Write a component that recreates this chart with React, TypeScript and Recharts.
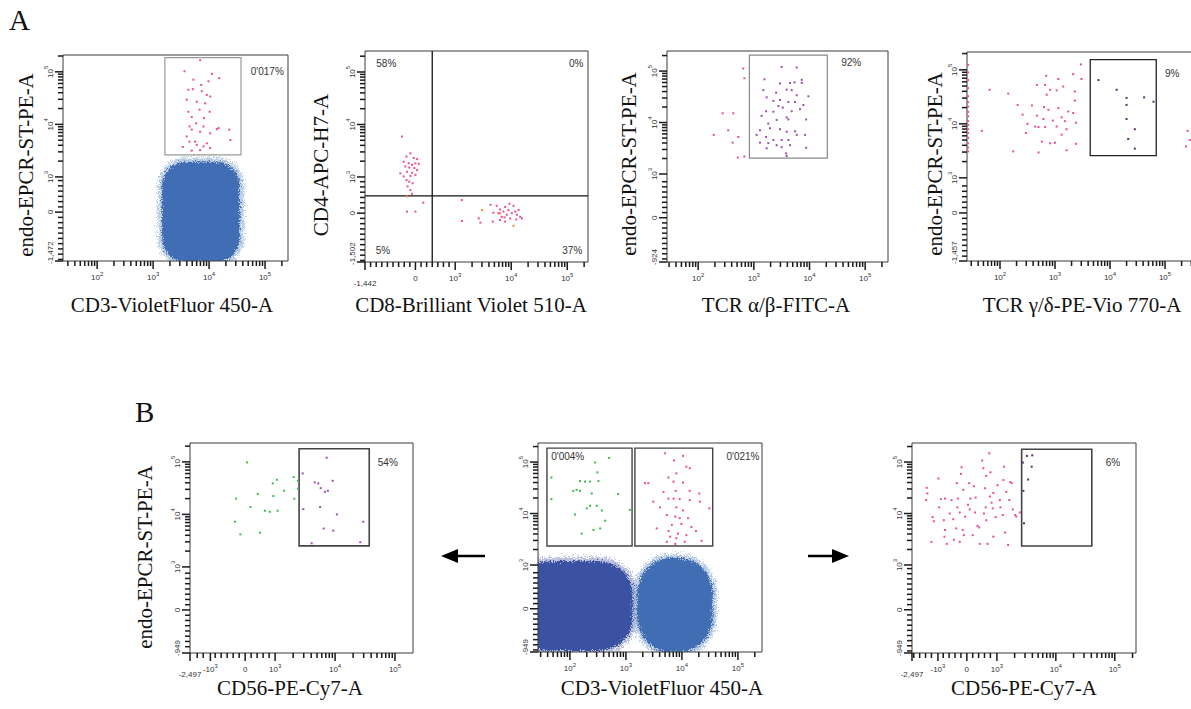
import React from 'react';
import { ScatterChart, Scatter, XAxis, YAxis, ReferenceArea, ReferenceLine, ReferenceDot } from 'recharts';

type Pair = [number, number];
type Maj = { v: number; l: string; low?: boolean };
type Rect4 = [number, number, number, number];

// ---------------- data (display units: one unit per decade of the biexponential axis) ----------------
const P1_GATED: Pair[] = [
  [3.84, 5.22], [3.56, 5.01], [4.05, 4.96], [3.72, 4.85], [3.99, 4.82], [4.18, 4.88], [3.86, 4.75], [3.63, 4.66],
  [3.71, 4.67], [3.87, 4.63], [3.96, 4.56], [4.02, 4.53], [3.6, 4.47], [3.78, 4.43], [3.93, 4.4], [3.83, 4.28],
  [4.01, 4.24], [3.63, 4.24], [3.69, 4.14], [3.91, 4.12], [3.77, 4.02], [3.65, 3.96], [3.9, 3.96], [3.69, 3.9],
  [3.84, 3.86], [4.14, 3.91], [4.17, 3.93], [4.02, 3.83], [4.36, 3.9], [3.6, 3.77], [3.75, 3.67], [3.96, 3.64],
  [3.65, 3.67], [3.78, 3.61], [3.9, 3.58], [3.53, 3.57], [4.02, 3.55], [4.38, 3.7], [3.84, 3.51], [3.69, 3.5],
];
const P1_BLOBS: Rect4[] = [[3.16, 4.55, 1.38, 3.29]];
const P1_GATES: Rect4[] = [[3.21, 4.57, 3.42, 5.27]];

const P2_CD4: Pair[] = [
  [2.05, 3.77], [2.2, 3.45], [2.13, 3.39], [2.26, 3.36], [2.32, 3.34], [2.08, 3.29], [2.17, 3.26], [2.29, 3.26],
  [2.23, 3.23], [2.35, 3.25], [2.11, 3.2], [2.18, 3.18], [2.27, 3.17], [2.02, 3.07], [2.14, 3.1], [2.23, 3.08],
  [2.32, 3.13], [2.08, 3.01], [2.2, 3.02], [2.29, 3.04], [2.13, 2.94], [2.18, 2.91], [2.24, 2.88], [2.15, 2.82],
  [2.2, 2.75], [2.23, 2.68], [2.29, 2.34], [2.14, 2.34], [2.43, 2.51],
];
const P2_CD8: Pair[] = [
  [3.12, 2.56], [3.12, 2.16], [3.42, 2.21], [3.45, 2.13], [3.63, 2.47], [3.68, 2.32], [3.67, 2.15], [3.77, 2.31],
  [3.8, 2.38], [3.83, 2.24], [3.86, 2.34], [3.89, 2.43], [3.92, 2.28], [3.95, 2.37], [3.98, 2.21], [4.01, 2.31],
  [4.04, 2.45], [4.07, 2.34], [4.1, 2.28], [4.13, 2.37], [4.16, 2.24], [4.19, 2.21], [3.8, 2.18], [3.89, 2.15],
  [3.74, 2.45], [3.97, 2.49], [4.09, 2.19], [3.88, 2.23],
];
const P2_ORANGE: Pair[] = [[2.14, 2.63], [3.48, 2.37], [3.8, 2.31], [4.04, 2.07]];
const P2_QUAD: Pair = [2.59, 2.64];

const P3_GATED: Pair[] = [
  [3.5, 5.08], [3.77, 5.07], [3.19, 4.84], [3.65, 4.77], [3.73, 4.78], [3.86, 4.83], [3.86, 4.77], [3.47, 4.76],
  [3.59, 4.64], [3.68, 4.63], [3.17, 4.63], [3.4, 4.58], [3.77, 4.53], [3.98, 4.51], [3.35, 4.42], [3.47, 4.44],
  [3.62, 4.4], [3.74, 4.4], [3.89, 4.34], [3.83, 4.26], [3.52, 4.29], [3.22, 4.22], [3.68, 4.22], [3.14, 4.13],
  [3.59, 4.1], [3.62, 4.06], [3.94, 4.06], [3.41, 4.05], [3.26, 3.98], [3.47, 3.87], [3.74, 3.83], [3.11, 3.85],
  [3.29, 3.89], [3.59, 3.82], [3.22, 3.72], [3.05, 3.76], [3.35, 3.66], [3.5, 3.66], [3.62, 3.66], [3.11, 3.61],
  [3.23, 3.5], [3.5, 3.52], [3.26, 3.6], [3.41, 3.56], [3.65, 3.56], [3.58, 3.4], [3.59, 3.35], [3.94, 3.51],
  [3.92, 3.76], [3.77, 3.76], [3.44, 4.32], [3.23, 4.49], [3.35, 4.21],
];
const P3_OUT: Pair[] = [
  [2.81, 5.05], [2.83, 4.86], [2.44, 4.18], [2.63, 4.18], [2.54, 3.85], [2.28, 3.76], [2.72, 3.72], [2.62, 3.61],
  [2.71, 3.32], [2.83, 3.34],
];
const P3_GATES: Rect4[] = [[2.92, 4.32, 3.31, 5.31]];

const P4_OUT: Pair[] = [
  [1.81, 4.63], [2.15, 4.56], [2.67, 4.72], [2.82, 4.72], [3.06, 4.83], [2.84, 4.89], [3.33, 4.92], [3.48, 4.83],
  [3.47, 5.1], [2.85, 4.54], [2.91, 4.63], [3.03, 4.62], [3.15, 4.69], [3.36, 4.6], [2.32, 4.35], [2.58, 4.34],
  [2.8, 4.31], [2.88, 4.26], [3.06, 4.29], [3.24, 4.23], [3.36, 4.43], [2.41, 4.17], [2.67, 4.15], [2.79, 4.09],
  [2.96, 4.06], [3.12, 4.12], [3.18, 4.05], [3.33, 4.2], [2.5, 4.0], [2.64, 3.95], [2.7, 3.94], [2.82, 3.94],
  [3.03, 3.95], [3.21, 3.9], [3.38, 4.02], [1.67, 3.87], [2.47, 3.83], [2.76, 3.67], [2.91, 3.64], [3.0, 3.65],
  [3.12, 3.8], [2.7, 3.47], [3.21, 3.51], [3.38, 3.63], [2.24, 3.49], [5.41, 3.87], [5.45, 3.7], [5.38, 3.58],
];
const P4_EDGE_Y: number[] = [5.09, 4.95, 4.81, 4.66, 4.51, 4.4, 4.32, 4.22, 4.14, 4.05, 3.98, 3.9, 3.83, 3.74, 3.64, 3.56, 3.49];
const P4_EDGE_X = 1.42;
const P4_GATED: Pair[] = [
  [3.79, 4.81], [4.12, 4.63], [4.3, 4.48], [4.3, 4.35], [4.3, 4.09], [4.45, 3.9], [4.33, 3.72], [4.45, 3.54],
  [4.62, 4.49], [4.79, 4.41],
];
const P4_GATES: Rect4[] = [[3.64, 4.84, 3.41, 5.19]];

const P5_GREEN: Pair[] = [
  [2.35, 4.3], [2.33, 3.86], [2.42, 3.62], [2.59, 4.14], [2.71, 4.39], [2.75, 3.65], [2.83, 4.07], [2.91, 4.05],
  [2.96, 4.59], [2.97, 4.35], [3.03, 4.66], [3.04, 4.07], [3.15, 4.45], [3.31, 4.71], [3.32, 4.3], [3.38, 4.64],
  [3.38, 4.49], [2.53, 4.99],
];
const P5_GATED: Pair[] = [
  [3.46, 4.78], [3.47, 4.1], [3.66, 4.61], [3.72, 4.59], [3.76, 4.5], [3.83, 4.43], [3.88, 4.45], [3.96, 4.64],
  [3.86, 5.08], [3.75, 4.14], [4.03, 4.0], [3.81, 3.73], [3.97, 3.69], [4.47, 3.86], [3.61, 3.45], [4.42, 3.47],
];
const P5_GATES: Rect4[] = [[3.4, 4.57, 3.4, 5.25]];

const P6_GREEN: Pair[] = [
  [1.67, 4.7], [1.67, 4.28], [2.45, 4.99], [2.7, 5.08], [2.49, 4.8], [2.18, 4.63], [2.27, 4.62], [2.36, 4.62],
  [2.51, 4.63], [2.06, 4.44], [2.12, 4.46], [2.18, 4.44], [2.39, 4.39], [2.86, 4.38], [2.3, 4.1], [2.36, 4.15],
  [2.48, 4.15], [2.57, 4.06], [3.07, 4.07], [2.09, 3.98], [2.63, 3.86], [2.54, 3.71], [2.42, 3.68], [2.21, 3.61],
];
const P6_PINK: Pair[] = [
  [3.7, 5.17], [3.86, 5.03], [4.02, 5.12], [4.08, 4.91], [4.14, 4.88], [3.9, 4.78], [3.76, 4.7], [3.34, 4.59],
  [3.4, 4.59], [3.85, 4.62], [4.02, 4.6], [3.67, 4.42], [3.89, 4.44], [4.14, 4.44], [4.31, 4.39], [3.49, 4.23],
  [3.76, 4.29], [3.85, 4.29], [3.96, 4.28], [4.14, 4.26], [3.61, 4.12], [3.9, 4.12], [4.02, 4.06], [3.73, 3.97],
  [3.88, 3.94], [3.96, 3.91], [4.11, 3.91], [3.82, 3.78], [3.99, 3.8], [4.17, 3.74], [3.55, 3.71], [3.76, 3.66],
  [3.93, 3.61], [4.08, 3.58], [4.25, 3.66], [3.79, 3.55], [3.9, 3.52], [4.35, 3.47], [3.73, 3.45], [4.05, 3.45],
  [3.88, 3.41], [4.49, 4.1], [4.32, 4.23],
];
const P6_BLOBS_DARK: Rect4[] = [[1.0, 3.12, 1.33, 3.08]];
const P6_BLOBS_LIGHT: Rect4[] = [[3.2, 4.55, 1.3, 3.14]];
const P6_GATES: Rect4[] = [[1.59, 3.11, 3.37, 5.27], [3.16, 4.55, 3.37, 5.27]];

const P7_PINK: Pair[] = [
  [1.81, 4.5], [1.82, 4.39], [1.8, 4.26], [2.01, 4.68], [2.05, 4.28], [1.91, 3.93], [1.93, 3.85], [1.89, 3.45],
  [2.12, 4.29], [2.1, 3.87], [2.12, 3.68], [2.11, 3.55], [2.15, 3.41], [2.02, 4.12], [2.2, 4.0], [2.23, 4.26],
  [2.26, 3.89], [2.32, 4.59], [2.34, 4.29], [2.33, 4.12], [2.37, 4.02], [2.31, 3.71], [2.27, 3.49], [2.37, 3.45],
  [2.4, 4.9], [2.39, 4.77], [2.43, 4.46], [2.46, 3.94], [2.42, 3.68], [2.44, 3.58], [2.51, 4.17], [2.53, 4.59],
  [2.54, 4.08], [2.55, 4.29], [2.59, 3.58], [2.61, 4.53], [2.63, 4.02], [2.64, 4.31], [2.67, 3.76], [2.7, 3.73],
  [2.71, 3.41], [2.75, 5.03], [2.77, 4.88], [2.78, 4.0], [2.8, 4.49], [2.82, 4.73], [2.81, 4.12], [2.82, 3.87],
  [2.84, 3.41], [2.87, 5.17], [2.88, 4.33], [2.89, 4.8], [2.91, 4.21], [2.93, 4.1], [2.94, 3.55], [2.94, 4.4],
  [2.98, 3.93], [3.01, 4.55], [3.05, 4.26], [3.06, 4.12], [3.1, 3.97], [3.11, 4.65], [3.12, 4.91], [3.14, 3.63],
  [3.16, 4.42], [3.19, 3.39], [3.21, 4.26], [3.23, 4.61], [3.25, 4.59], [3.27, 4.08], [3.31, 3.97], [3.33, 3.94],
  [3.39, 4.02],
];
const P7_GATED: Pair[] = [[3.44, 4.99], [3.51, 5.12], [3.6, 5.13], [3.59, 4.91], [3.53, 4.66], [3.45, 4.44], [3.46, 3.81]];
const P7_GATES: Rect4[] = [[3.42, 4.61, 3.37, 5.25]];

// tick labels
const X_LOG: Maj[] = [{ v: 2, l: '10^2' }, { v: 3, l: '10^3' }, { v: 4, l: '10^4' }, { v: 5, l: '10^5' }];
const P2_X: Maj[] = [{ v: 1.39, l: '-1,442', low: true }, { v: 2.29, l: '0' }, { v: 3, l: '10^3' }, { v: 4, l: '10^4' }, { v: 5, l: '10^5' }];
const P5_X: Maj[] = [{ v: 1.58, l: '-2,497', low: true }, { v: 1.92, l: '-10^3' }, { v: 2.5, l: '0' }, { v: 3, l: '10^3' }, { v: 4, l: '10^4' }, { v: 5, l: '10^5' }];
const P7_X: Maj[] = [{ v: 1.56, l: '-2,497', low: true }, { v: 2.0, l: '-10^3' }, { v: 2.49, l: '0' }, { v: 3, l: '10^3' }, { v: 4, l: '10^4' }, { v: 5, l: '10^5' }];
const yMaj = (zero: number, bottom: number, bl: string): Maj[] => [
  { v: 5, l: '10^5' }, { v: 4, l: '10^4' }, { v: 3, l: '10^3' }, { v: zero, l: '0' }, { v: bottom, l: bl, low: true },
];
const P1_Y = yMaj(2.33, 1.4, '-1,472');
const P2_Y = yMaj(2.31, 1.38, '-1,502');
const P3_Y = yMaj(2.15, 1.29, '-924');
const P4_Y = yMaj(2.35, 1.46, '-1,457');
const P5_Y = yMaj(2.18, 1.36, '-949');
const P6_Y = yMaj(2.15, 1.31, '-949');
const P7_Y = yMaj(2.13, 1.29, '-949');

const X_TITLES = ['CD3-VioletFluor 450-A', 'CD8-Brilliant Violet 510-A', 'TCR α/β-FITC-A', 'TCR γ/δ-PE-Vio 770-A', 'CD56-PE-Cy7-A', 'CD3-VioletFluor 450-A', 'CD56-PE-Cy7-A'];
const Y_TITLES = ['endo-EPCR-ST-PE-A', 'CD4-APC-H7-A', 'endo-EPCR-ST-PE-A', 'endo-EPCR-ST-PE-A', 'endo-EPCR-ST-PE-A', '', ''];
const PCT_LABELS: { p: number; x: number; y: number; t: string }[] = [
  { p: 0, x: 5.04, y: 5.0, t: "0'017%" },
  { p: 1, x: 1.77, y: 5.17, t: '58%' }, { p: 1, x: 5.16, y: 5.17, t: '0%' },
  { p: 1, x: 1.71, y: 1.59, t: '5%' }, { p: 1, x: 5.09, y: 1.59, t: '37%' },
  { p: 2, x: 4.75, y: 5.16, t: '92%' },
  { p: 3, x: 5.13, y: 4.94, t: '9%' },
  { p: 4, x: 4.88, y: 4.98, t: '54%' },
  { p: 5, x: 1.96, y: 5.1, t: "0'004%" }, { p: 5, x: 5.09, y: 5.1, t: "0'021%" },
  { p: 6, x: 4.97, y: 5.0, t: '6%' },
];

// ---------------- styling ----------------
const PINK = '#ea4f9b';
const PURPLE = '#9c52ad';
const DARK_PURPLE = '#5e2a70';
const GREEN = '#3dbb4e';
const ORANGE = '#f0843a';
const BLUE = '#3f6db3';
const NAVY = '#3a51a1';
const TICK = '#1a1a1a';
const SERIF = "'Liberation Serif', 'Times New Roman', serif";
const SANS = "'Liberation Sans', Arial, sans-serif";

const YW = 40, XH = 40, MT = 10, MR = 10;
const MAJ_LEN = 8, MIN_LEN = 5, TW = 1.5;

const toPts = (a: Pair[]) => a.map(([x, y]) => ({ x, y }));

function buildTicks(dom: [number, number], majors: Maj[], zero: number | null): number[] {
  const [lo, hi] = dom;
  const out: number[] = majors.map((m) => m.v);
  const add = (v: number) => {
    if (v <= lo || v >= hi) return;
    if (out.some((o) => Math.abs(o - v) < 0.03)) return;
    out.push(v);
  };
  const logStart = zero === null ? lo : 3;
  for (let d = Math.floor(logStart); d <= Math.ceil(hi); d++) {
    for (let k = 2; k <= 9; k++) {
      const v = d + Math.log10(k);
      if (v > logStart) add(v);
    }
  }
  if (zero !== null) {
    for (let i = -30; i <= 30; i++) {
      const v = zero + i * 0.1;
      if (v < 2.95) add(v);
    }
  }
  return out.sort((a, b) => a - b);
}

function parts(l: string): [string, string] {
  const i = l.indexOf('^');
  return i < 0 ? [l, ''] : [l.slice(0, i), l.slice(i + 1)];
}

// axis tick: mark plus a label for the decades
const makeXTick = (majors: Maj[]) => (p: any) => {
  const x = Number(p.x);
  const ay = Number(p.y);
  const m = majors.find((t) => Math.abs(t.v - p.payload.value) < 1e-6);
  const len = m ? MAJ_LEN : MIN_LEN;
  const [base, sup] = m ? parts(m.l) : ['', ''];
  return (
    <g>
      <rect x={x - TW / 2} y={ay} width={TW} height={len} fill={TICK} />
      {m && (
        <text x={x} y={ay + (m.low ? 24 : 19)} textAnchor="middle" fontSize={8} fontFamily={SANS} fill="#333">
          {base}
          {sup && <tspan dy={-4} fontSize={6}>{sup}</tspan>}
        </text>
      )}
    </g>
  );
};

const makeYTick = (majors: Maj[]) => (p: any) => {
  const ax = Number(p.x);
  const y = Number(p.y);
  const m = majors.find((t) => Math.abs(t.v - p.payload.value) < 1e-6);
  const len = m ? MAJ_LEN : MIN_LEN;
  const [base, sup] = m ? parts(m.l) : ['', ''];
  return (
    <g>
      <rect x={ax - len} y={y - TW / 2} width={len} height={TW} fill={TICK} />
      {m && (
        <text
          transform={`translate(${ax - 13},${m.low ? y + 3 : y}) rotate(-90)`}
          textAnchor={m.low ? 'start' : 'middle'}
          dominantBaseline="central"
          fontSize={8}
          fontFamily={SANS}
          fill="#333"
        >
          {base}
          {sup && <tspan dy={-4} fontSize={6}>{sup}</tspan>}
        </text>
      )}
    </g>
  );
};

const dotShape = (color: string) => (p: any) => (
  <rect x={p.cx - 1} y={p.cy - 1} width={2} height={2} fill={color} />
);

// blob of dense events: a rounded body with a noisy, speckled rim, clipped to the plot area
const blobShape = (color: string, rxf: number, ryf: number, clip: { x: number; y: number; w: number; h: number }, id: string) => (p: any) => {
  const x = Number(p.x), y = Number(p.y), width = Math.abs(Number(p.width)), height = Math.abs(Number(p.height));
  const rx = width * rxf;
  const ry = height * ryf;
  return (
    <g>
      <defs>
        <clipPath id={`clip-${id}`}>
          <rect x={clip.x} y={clip.y} width={clip.w} height={clip.h} />
        </clipPath>
        <filter id={`rough-${id}`} x="-20%" y="-20%" width="140%" height="140%">
          <feTurbulence type="fractalNoise" baseFrequency="0.9" numOctaves={2} seed={4} result="n" />
          <feDisplacementMap in="SourceGraphic" in2="n" scale={9} xChannelSelector="R" yChannelSelector="G" />
        </filter>
        <filter id={`rough2-${id}`} x="-20%" y="-20%" width="140%" height="140%">
          <feTurbulence type="fractalNoise" baseFrequency="1.3" numOctaves={1} seed={9} result="n" />
          <feDisplacementMap in="SourceGraphic" in2="n" scale={16} xChannelSelector="R" yChannelSelector="G" />
        </filter>
      </defs>
      <g clipPath={`url(#clip-${id})`}>
        <g filter={`url(#rough2-${id})`}>
          <rect x={x - 4} y={y - 4} width={width + 8} height={height + 8} rx={rx + 4} ry={ry + 4} fill={color} opacity={0.35} />
        </g>
        <g filter={`url(#rough-${id})`}>
          <rect x={x} y={y} width={width} height={height} rx={rx} ry={ry} fill={color} />
        </g>
      </g>
    </g>
  );
};

type SeriesDef = { data: Pair[]; color: string };
type BlobDef = { r: Rect4; color: string; rxf: number; ryf: number };
type PanelDef = {
  box: { l: number; t: number; r: number; b: number };
  xd: [number, number];
  yd: [number, number];
  xMaj: Maj[];
  xZero: number | null;
  yMaj: Maj[];
  yZero: number;
  series: SeriesDef[];
  blobs: BlobDef[];
  gates: Rect4[];
  gateColor: string;
  gateWidth: number;
  quad?: Pair;
};

const PANELS: PanelDef[] = [
  {
    box: { l: 63, t: 55, r: 288, b: 261 }, xd: [1.39, 5.41], yd: [1.4, 5.32], xMaj: X_LOG, xZero: null, yMaj: P1_Y, yZero: 2.33,
    series: [{ data: P1_GATED, color: PINK }],
    blobs: P1_BLOBS.map((r) => ({ r, color: BLUE, rxf: 0.3, ryf: 0.24 })),
    gates: P1_GATES, gateColor: '#9a9a9a', gateWidth: 1.2,
  },
  {
    box: { l: 365, t: 51, r: 588, b: 262 }, xd: [1.39, 5.37], yd: [1.38, 5.4], xMaj: P2_X, xZero: 2.29, yMaj: P2_Y, yZero: 2.31,
    series: [{ data: P2_CD4, color: PINK }, { data: P2_CD8, color: PINK }, { data: P2_ORANGE, color: ORANGE }],
    blobs: [], gates: [], gateColor: '#222', gateWidth: 1.3, quad: P2_QUAD,
  },
  {
    box: { l: 667, t: 51, r: 888, b: 262 }, xd: [1.44, 5.41], yd: [1.29, 5.39], xMaj: X_LOG, xZero: null, yMaj: P3_Y, yZero: 2.15,
    series: [{ data: P3_GATED, color: PURPLE }, { data: P3_OUT, color: PINK }],
    blobs: [], gates: P3_GATES, gateColor: '#8a8a8a', gateWidth: 1.2,
  },
  {
    box: { l: 967, t: 52, r: 1192, b: 261 }, xd: [1.4, 5.49], yd: [1.46, 5.33], xMaj: X_LOG, xZero: null, yMaj: P4_Y, yZero: 2.35,
    series: [
      { data: P4_OUT, color: PINK },
      { data: P4_EDGE_Y.map((y) => [P4_EDGE_X, y] as Pair), color: PINK },
      { data: P4_GATED, color: DARK_PURPLE },
    ],
    blobs: [], gates: P4_GATES, gateColor: '#222', gateWidth: 1.3,
  },
  {
    box: { l: 190, t: 443, r: 413, b: 653 }, xd: [1.58, 5.3], yd: [1.36, 5.36], xMaj: P5_X, xZero: 2.5, yMaj: P5_Y, yZero: 2.18,
    series: [{ data: P5_GREEN, color: GREEN }, { data: P5_GATED, color: PURPLE }],
    blobs: [], gates: P5_GATES, gateColor: '#444', gateWidth: 1.6,
  },
  {
    box: { l: 538, t: 443, r: 762, b: 652 }, xd: [1.43, 5.43], yd: [1.31, 5.37], xMaj: X_LOG, xZero: null, yMaj: P6_Y, yZero: 2.15,
    series: [{ data: P6_GREEN, color: GREEN }, { data: P6_PINK, color: PINK }],
    blobs: [
      ...P6_BLOBS_DARK.map((r) => ({ r, color: NAVY, rxf: 0.3, ryf: 0.35 })),
      ...P6_BLOBS_LIGHT.map((r) => ({ r, color: BLUE, rxf: 0.45, ryf: 0.38 })),
    ],
    gates: P6_GATES, gateColor: '#444', gateWidth: 1.4,
  },
  {
    box: { l: 912, t: 443, r: 1136, b: 653 }, xd: [1.56, 5.36], yd: [1.29, 5.37], xMaj: P7_X, xZero: 2.49, yMaj: P7_Y, yZero: 2.13,
    series: [{ data: P7_PINK, color: PINK }, { data: P7_GATED, color: DARK_PURPLE }],
    blobs: [], gates: P7_GATES, gateColor: '#444', gateWidth: 1.6,
  },
];

const TITLE_POS: { x: [number, number]; y: [number, number] }[] = [
  { x: [172, 312], y: [33, 165] },
  { x: [471, 312], y: [328, 165] },
  { x: [776, 312], y: [636, 164] },
  { x: [1082, 312], y: [942, 164] },
  { x: [290, 695], y: [152, 557] },
  { x: [662, 695], y: [0, 0] },
  { x: [1024, 695], y: [0, 0] },
];

function Panel({ cfg, idx }: { cfg: PanelDef; idx: number }) {
  const w = cfg.box.r - cfg.box.l;
  const h = cfg.box.b - cfg.box.t;
  const xTicks = buildTicks(cfg.xd, cfg.xMaj, cfg.xZero);
  const yTicks = buildTicks(cfg.yd, cfg.yMaj, cfg.yZero);
  const clip = { x: YW, y: MT, w, h };
  return (
    <div style={{ position: 'absolute', left: cfg.box.l - YW, top: cfg.box.t - MT, width: w + YW + MR, height: h + MT + XH }}>
      <ScatterChart width={w + YW + MR} height={h + MT + XH} margin={{ top: MT, right: MR, bottom: 0, left: 0 }}>
        <XAxis
          type="number" dataKey="x" domain={cfg.xd} allowDataOverflow ticks={xTicks} interval={0}
          tickLine={false} axisLine={false} tickSize={0} tickMargin={0} height={XH} tick={makeXTick(cfg.xMaj)}
        />
        <YAxis
          type="number" dataKey="y" domain={cfg.yd} allowDataOverflow ticks={yTicks} interval={0}
          tickLine={false} axisLine={false} tickSize={0} tickMargin={0} width={YW} tick={makeYTick(cfg.yMaj)}
        />
        {cfg.blobs.map((b, i) => (
          <ReferenceArea
            key={'b' + i} x1={b.r[0]} x2={b.r[1]} y1={b.r[2]} y2={b.r[3]} ifOverflow="visible"
            shape={blobShape(b.color, b.rxf, b.ryf, clip, `p${idx}b${i}`)}
          />
        ))}
        {cfg.series.map((s, i) => (
          <Scatter key={'s' + i} data={toPts(s.data)} isAnimationActive={false} shape={dotShape(s.color)} />
        ))}
        {cfg.gates.map((g, i) => (
          <ReferenceArea key={'g' + i} x1={g[0]} x2={g[1]} y1={g[2]} y2={g[3]} ifOverflow="visible" fill="none" stroke={cfg.gateColor} strokeWidth={cfg.gateWidth} />
        ))}
        {cfg.quad && <ReferenceLine x={cfg.quad[0]} stroke="#111" strokeWidth={1.3} ifOverflow="visible" />}
        {cfg.quad && <ReferenceLine y={cfg.quad[1]} stroke="#111" strokeWidth={1.3} ifOverflow="visible" />}
        <ReferenceArea x1={cfg.xd[0]} x2={cfg.xd[1]} y1={cfg.yd[0]} y2={cfg.yd[1]} ifOverflow="visible" fill="none" stroke="#3a3a3a" strokeWidth={1} />
        {PCT_LABELS.filter((l) => l.p === idx).map((l, i) => (
          <ReferenceDot
            key={'l' + i} x={l.x} y={l.y} r={0} ifOverflow="visible"
            shape={(p: any) => (
              <text x={p.cx} y={p.cy} textAnchor="middle" dominantBaseline="central" fontSize={10} fontFamily={SANS} fill="#333">{l.t}</text>
            )}
          />
        ))}
      </ScatterChart>
    </div>
  );
}

export default function App() {
  return (
    <div style={{ position: 'absolute', left: 0, top: 0, width: 1191, height: 709, overflow: 'hidden', background: '#fff' }}>
      {PANELS.map((p, i) => (
        <Panel key={i} cfg={p} idx={i} />
      ))}
      <svg width={1191} height={709} style={{ position: 'absolute', left: 0, top: 0, pointerEvents: 'none' }}>
        <text x={9} y={30} fontSize={29} fontFamily={SERIF} fill="#111">A</text>
        <text x={135} y={422} fontSize={29} fontFamily={SERIF} fill="#111">B</text>
        {X_TITLES.map((t, i) => (
          <text key={'xt' + i} x={TITLE_POS[i].x[0]} y={TITLE_POS[i].x[1]} textAnchor="middle" fontSize={21} fontFamily={SERIF} fill="#111">{t}</text>
        ))}
        {Y_TITLES.map((t, i) =>
          t ? (
            <text key={'yt' + i} transform={`translate(${TITLE_POS[i].y[0]},${TITLE_POS[i].y[1]}) rotate(-90)`} textAnchor="middle" fontSize={21} fontFamily={SERIF} fill="#111">{t}</text>
          ) : null
        )}
        <polygon points="441,556 458,549 458,563" fill="#000" />
        <line x1={456} x2={485} y1={556} y2={556} stroke="#000" strokeWidth={2.5} />
        <line x1={808} x2={834} y1={556} y2={556} stroke="#000" strokeWidth={2.5} />
        <polygon points="849,556 832,549 832,563" fill="#000" />
      </svg>
    </div>
  );
}
